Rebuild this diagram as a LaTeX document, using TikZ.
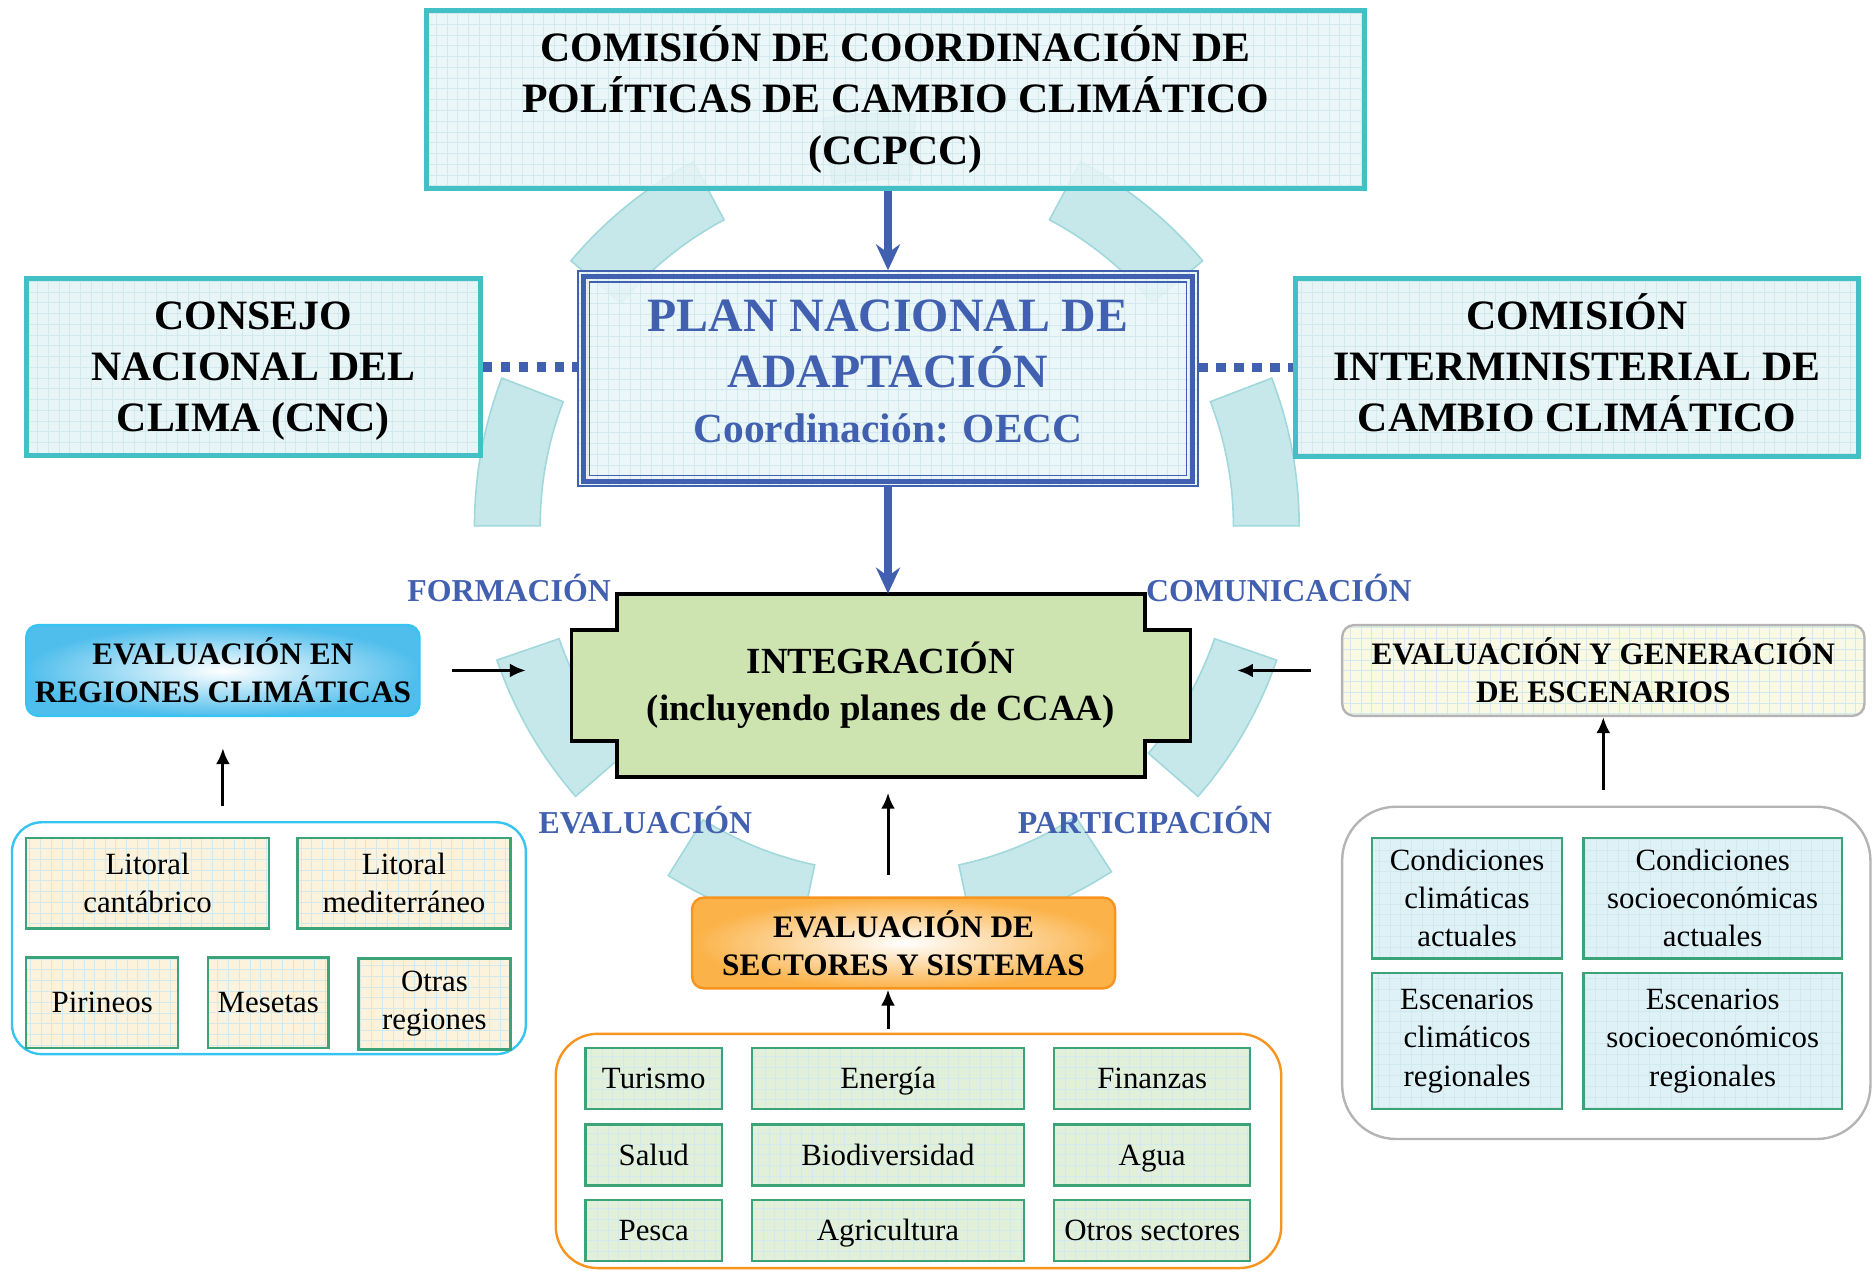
\documentclass[tikz,border=0pt]{standalone}
\usepackage{fontspec}
\setmainfont{Liberation Serif}
\usetikzlibrary{arrows.meta,calc}

\definecolor{tealline}{RGB}{66,192,198}
\definecolor{boxfill}{RGB}{232,245,247}
\definecolor{gridline}{RGB}{210,234,238}
\definecolor{planblue}{RGB}{66,96,176}
\definecolor{integfill}{RGB}{205,227,176}
\definecolor{cellline}{RGB}{58,164,120}
\definecolor{creamfill}{RGB}{253,242,220}
\definecolor{greenfill}{RGB}{226,240,218}
\definecolor{bluefill}{RGB}{222,241,247}
\definecolor{skyline}{RGB}{56,196,240}
\definecolor{skyfill}{RGB}{80,190,236}
\definecolor{orangeline}{RGB}{247,148,30}
\definecolor{orangefill}{RGB}{251,178,72}
\definecolor{grayline}{RGB}{180,180,180}
\definecolor{yellowfill}{RGB}{250,250,228}
\definecolor{ringfill}{RGB}{188,228,232}
\definecolor{ringline}{RGB}{160,216,220}

\tikzset{
	gridded/.style={path picture={\draw[gridline, line width=0.3pt, step=5.4pt] (path picture bounding box.south west) grid (path picture bounding box.north east);}},
	council/.style={draw=tealline, line width=2.4pt, fill=boxfill, gridded, align=center, inner sep=0pt, font=\fontsize{21}{25.8}\selectfont\bfseries},
	cell/.style={draw=cellline, line width=1.2pt, gridded, align=center, inner sep=0pt, font=\fontsize{15.5}{19.2}\selectfont},
	sector/.style={cell, fill=greenfill, minimum height=30.6pt, text height=12pt, text depth=1.7pt},
	head/.style={rounded corners=6pt, line width=1.2pt, align=center, inner sep=0pt, font=\fontsize{15.7}{19.2}\selectfont\bfseries},
	group/.style={line width=1.2pt},
	tag/.style={text=planblue, font=\fontsize{16}{19}\selectfont\bfseries},
	bluearrow/.style={draw=planblue, line width=4pt, -{Stealth[length=13pt,width=12pt]}},
	blackarrow/.style={line width=1.5pt, -{Latex[length=8pt,width=7pt]}},
	dotline/.style={draw=planblue, line width=4.8pt, dash pattern=on 4.8pt off 4.2pt},
	ring/.style={fill=ringfill, draw=ringline, line width=0.8pt, fill opacity=0.85}
}

\begin{document}
\begin{tikzpicture}[x=0.6pt, y=-0.6pt]
	\useasboundingbox (0,0) rectangle (1568,1063);
	
	\coordinate (ctr) at (742,440);
	\foreach \a/\b in {86/99, 118/140, 40/62, 159/180, 0/21, 199/221, 319/341, 238/258, 282/303}
		\filldraw[ring] ($(ctr)+(-\a:345)$) arc[start angle=-\a, end angle=-\b, radius=345] -- ($(ctr)+(-\b:290)$) arc[start angle=-\b, end angle=-\a, radius=290] -- cycle;
	
	\node[council, fill opacity=0.85, text opacity=1, minimum width=471pt, minimum height=89.4pt] (ccpcc) at (749.5,83) {COMISIÓN DE COORDINACIÓN DE\\POLÍTICAS DE CAMBIO CLIMÁTICO\\(CCPCC)};
	\node[council, minimum width=228pt, minimum height=88.8pt] (cnc) at (212,307) {\vphantom{Ó}CONSEJO\\NACIONAL DEL\\CLIMA (CNC)};
	\node[council, minimum width=282.6pt, minimum height=89.4pt] (cicc) at (1319.5,307.5) {COMISIÓN\\INTERMINISTERIAL DE\\CAMBIO CLIMÁTICO\rule[-5pt]{0pt}{0pt}};
	
	\node[draw=planblue, line width=1pt, fill=boxfill, fill opacity=0.9, gridded, minimum width=310.8pt, minimum height=108pt] (plan) at (743,317) {};
	\draw[planblue, line width=2.4pt] ($(plan.north west)+(5,5)$) rectangle ($(plan.south east)+(-5,-5)$);
	\draw[planblue, line width=0.8pt] ($(plan.north west)+(10,10)$) rectangle ($(plan.south east)+(-10,-10)$);
	\node[text=planblue, align=center, font=\fontsize{24}{28}\selectfont\bfseries] (plantitle) at (743,311) {PLAN NACIONAL DE\\ADAPTACIÓN\\{\fontsize{20.8}{27}\selectfont Coordinación: OECC}};
	
	\draw[dotline] (cnc.east) -- (cnc.east -| plan.west);
	\draw[dotline] (plan.east |- cicc.west) -- (cicc.west);
	\draw[bluearrow] (plan.north |- ccpcc.south) -- (plan.north);
	
	\draw[fill=integfill, line width=1.8pt] (516,497) -- (958,497) -- (958,527) -- (996,527) -- (996,620) -- (958,620) -- (958,650) -- (516,650) -- (516,620) -- (478,620) -- (478,527) -- (516,527) -- cycle;
	\node[align=center, minimum width=265.2pt, minimum height=91.8pt, font=\fontsize{18.5}{23.4}\selectfont\bfseries] (integ) at (737,573.5) {INTEGRACIÓN\\(incluyendo planes de CCAA)};
	\draw[bluearrow] (plan.south) -- (plan.south |- integ.north);
	
	\node[tag] (formacion) at (426,492) {FORMACIÓN};
	\node[tag] (comunicacion) at (1070,492) {COMUNICACIÓN};
	\node[tag] (evaluacion) at (540,686) {EVALUACIÓN};
	\node[tag] (participacion) at (958,686) {PARTICIPACIÓN};
	
	\node[head, draw=skyline, inner color=white, outer color=skyfill, minimum width=197.4pt, minimum height=45.6pt] (evreg) at (186.5,561) {EVALUACIÓN EN\\REGIONES CLIMÁTICAS};
	\node[group, draw=skyline, rounded corners=15pt, minimum width=258pt, minimum height=116.4pt] (regs) at (225,785) {};
	\node[cell, fill=creamfill, minimum width=121.8pt, minimum height=45.6pt] (litcan) at (123.5,739) {Litoral\\cantábrico};
	\node[cell, fill=creamfill, minimum width=106.8pt, minimum height=45.6pt] (litmed) at (338,739) {Litoral\\mediterráneo};
	\node[cell, fill=creamfill, minimum width=76.2pt, minimum height=45.6pt] (pir) at (85.5,839) {Pirineos};
	\node[cell, fill=creamfill, minimum width=60.6pt, minimum height=45.6pt] (mes) at (224.5,839) {Mesetas};
	\node[cell, fill=creamfill, minimum width=76.2pt, minimum height=45.6pt] (otr) at (363.5,840) {Otras\\regiones};
	\coordinate (lefttip) at (440,561);
	\draw[blackarrow, shorten <=15.6pt] (evreg.east) -- (lefttip);
	\draw[blackarrow, shorten <=7.8pt, shorten >=15.6pt] (evreg.south |- regs.north) -- (evreg.south);
	
	\node[head, draw=grayline, fill=yellowfill, gridded, minimum width=262.2pt, minimum height=45.6pt] (evesc) at (1341.5,561) {EVALUACIÓN Y GENERACIÓN\\DE ESCENARIOS};
	\node[group, draw=grayline, rounded corners=27pt, minimum width=265.2pt, minimum height=166.8pt] (escs) at (1344,814) {};
	\node[cell, fill=bluefill, minimum width=95.4pt, minimum height=60.6pt] (condclim) at (1227.5,751.5) {Condiciones\\climáticas\\actuales};
	\node[cell, fill=bluefill, minimum width=129.6pt, minimum height=60.6pt] (condsoc) at (1433,751.5) {Condiciones\\socioeconómicas\\actuales};
	\node[cell, fill=bluefill, minimum width=95.4pt, minimum height=68.4pt] (escclim) at (1227.5,871) {Escenarios\\climáticos\\regionales};
	\node[cell, fill=bluefill, minimum width=129.6pt, minimum height=68.4pt] (escsoc) at (1433,871) {Escenarios\\socioeconómicos\\regionales};
	\coordinate (righttip) at (1035,561);
	\draw[blackarrow, shorten <=15pt] (evesc.west) -- (righttip);
	\draw[blackarrow, shorten <=7.8pt] (evesc.south |- escs.north) -- (evesc.south);
	
	\node[head, draw=orangeline, inner color=white, outer color=orangefill, minimum width=212.4pt, minimum height=45.6pt] (evsec) at (756,789) {EVALUACIÓN DE\\SECTORES Y SISTEMAS};
	\node[group, draw=orangeline, rounded corners=21pt, minimum width=364.2pt, minimum height=117.6pt] (secs) at (768.5,963) {};
	\node[sector, minimum width=68.4pt] (turismo) at (547,902.5) {Turismo};
	\node[sector, minimum width=136.8pt] (energia) at (743,902.5) {Energía};
	\node[sector, minimum width=98.4pt] (finanzas) at (964,902.5) {Finanzas};
	\node[sector, minimum width=68.4pt] (salud) at (547,966.5) {Salud};
	\node[sector, minimum width=136.8pt] (biodiv) at (743,966.5) {Biodiversidad};
	\node[sector, minimum width=98.4pt] (agua) at (964,966.5) {Agua};
	\node[sector, minimum width=68.4pt] (pesca) at (547,1029.5) {Pesca};
	\node[sector, minimum width=136.8pt] (agric) at (743,1029.5) {Agricultura};
	\node[sector, minimum width=98.4pt] (otrsec) at (964,1029.5) {Otros sectores};
	\draw[blackarrow, shorten <=10.8pt, shorten >=7.8pt] (plan.south |- evsec.north) -- (plan.south |- integ.south);
	\draw[blackarrow, shorten <=1.8pt] (plan.south |- secs.north) -- (plan.south |- evsec.south);
\end{tikzpicture}
\end{document}
